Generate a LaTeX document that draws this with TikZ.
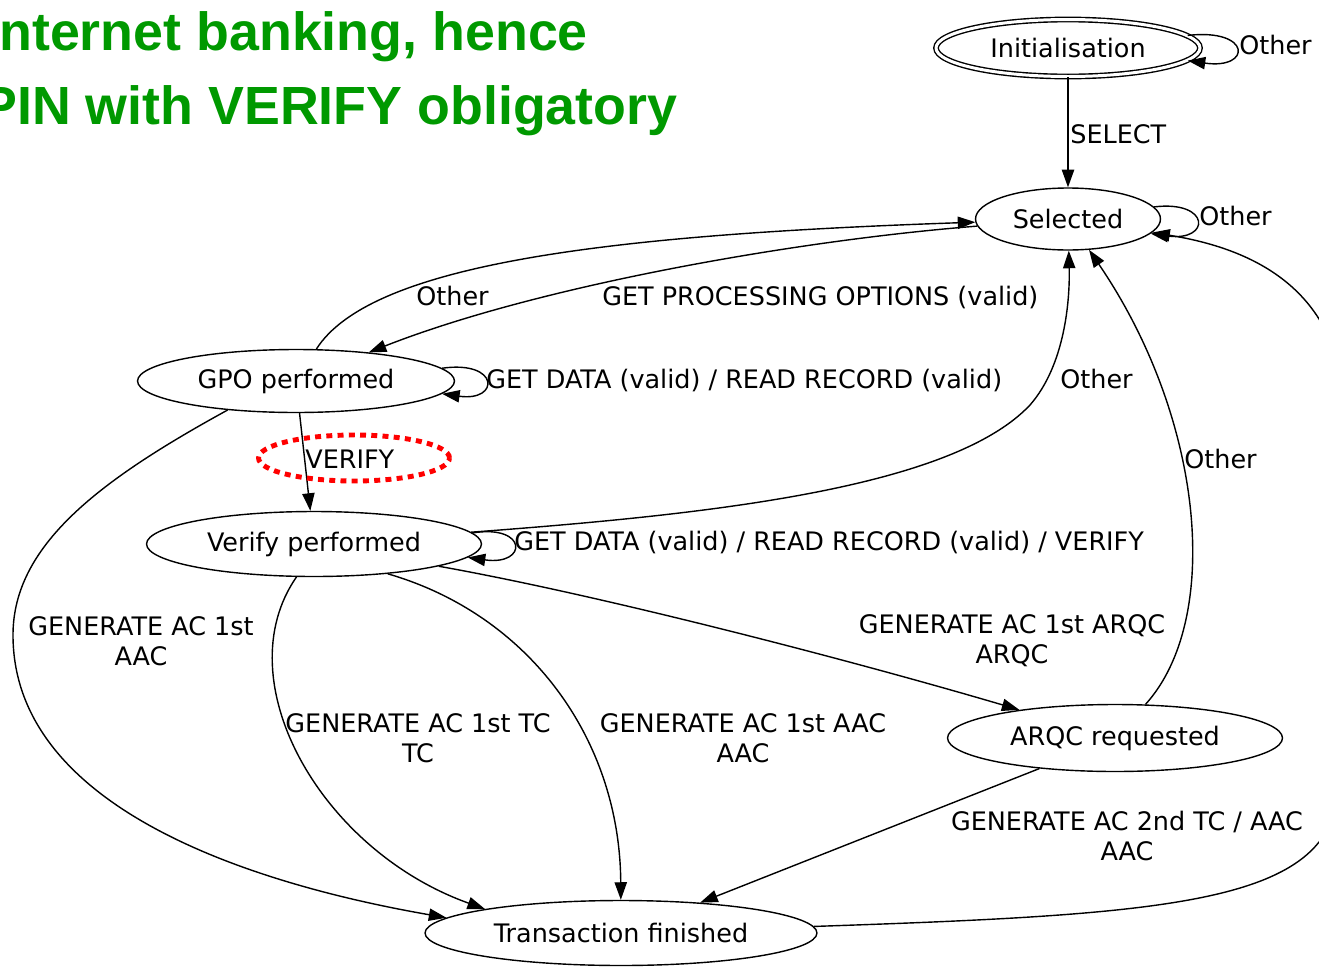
\documentclass[tikz,border=0pt]{standalone}
\usepackage{fontspec}
\setmainfont{DejaVu Sans}
\newfontfamily\titlefont{Liberation Sans}
\usetikzlibrary{shapes.geometric,arrows.meta}
\definecolor{titlegreen}{RGB}{0,153,0}
\begin{document}
\begin{tikzpicture}[x=0.02cm,y=-0.02cm,
  state/.style={draw, ellipse, line width=0.8pt, inner sep=0pt, font=\fontsize{14.5}{17}\selectfont},
  lbl/.style={inner sep=0pt, font=\fontsize{14.5}{17}\selectfont},
  mlbl/.style={lbl, align=center},
  arr/.style={line width=0.8pt, -{Triangle[length=10pt,width=7pt]}},
  ttl/.style={inner sep=0pt, text=titlegreen, font=\titlefont\bfseries\fontsize{30.6}{36}\selectfont},
  hl/.style={ellipse, draw=red, line width=2.8pt, dash pattern=on 3.4pt off 3pt, inner sep=0pt}
]
\useasboundingbox (0,0) rectangle (1319,967);

% title
\node[ttl, anchor=base west] (t1) at (-1,50) {nternet banking, hence};
\node[ttl, anchor=base west] (t2) at (-19,124) {PIN with VERIFY obligatory};

% states
\node[state, double, double distance=1.7pt, minimum width=5.28cm, minimum height=1.14cm] (init) at (1068,48) {Initialisation};
\node[state, minimum width=3.7cm, minimum height=1.24cm] (sel) at (1068,219) {Selected};
\node[state, minimum width=6.34cm, minimum height=1.26cm] (gpo) at (296,381) {GPO performed};
\node[state, minimum width=6.7cm, minimum height=1.3cm] (ver) at (314,544) {Verify performed};
\node[state, minimum width=6.7cm, minimum height=1.34cm] (arqc) at (1115,738) {ARQC requested};
\node[state, minimum width=7.84cm, minimum height=1.3cm] (tf) at (621,933) {Transaction finished};

% edges
\draw[arr] (init) -- (sel);
\draw[arr] (init.6) .. controls (1252,28) and (1252,70) .. (init.-6);
\draw[arr] (sel.8) .. controls (1211,200) and (1211,242) .. (sel.-10);
\draw[arr] (sel) .. controls (800,240) and (540,285) .. (gpo);
\draw[arr] (gpo) .. controls (370,265) and (600,235) .. (sel);
\draw[arr] (gpo.5) .. controls (500,360) and (500,402) .. (gpo.-5);
\draw[arr] (gpo) -- (ver);
\draw[arr] (ver.4) .. controls (528,524) and (528,566) .. (ver.-5);
\draw[arr] (ver) .. controls (700,515) and (950,490) .. (1030,405) .. controls (1065,365) and (1070,300) .. (sel);
\draw[arr] (arqc) .. controls (1222,620) and (1205,420) .. (sel);
\draw[arr] (tf) .. controls (1150,915) and (1310,905) .. (1335,810) .. controls (1360,720) and (1360,420) .. (1330,340) .. controls (1300,270) and (1230,245) .. (sel);
\draw[arr] (ver) .. controls (600,595) and (850,660) .. (arqc);
\draw[arr] (ver.242) .. controls (225,680) and (320,850) .. (tf.170);
\draw[arr] (ver.338) .. controls (530,615) and (620,740) .. (tf);
\draw[arr] (gpo.203) .. controls (100,480) and (13,545) .. (13,635) .. controls (13,800) and (230,880) .. (tf.175);
\draw[arr] (arqc.202) -- (tf.21);

% labels
\node[lbl, anchor=base west] (lselect) at (1070,143) {SELECT};
\node[lbl, anchor=base west] (linit) at (1239,54) {Other};
\node[lbl, anchor=base west] (lsel) at (1199,225) {Other};
\node[lbl, anchor=base west] (lgo) at (416,305) {Other};
\node[lbl, anchor=base west] (lgpo) at (602,305) {GET PROCESSING OPTIONS (valid)};
\node[lbl, anchor=base west] (lgl) at (486,388) {GET DATA (valid) / READ RECORD (valid)};
\node[lbl, anchor=base west] (lvo) at (1060,388) {Other};
\node[lbl, anchor=base west] (lverify) at (305,468) {VERIFY};
\node[lbl, anchor=base west] (lao) at (1184,468) {Other};
\node[lbl, anchor=base west] (lvl) at (514,550) {GET DATA (valid) / READ RECORD (valid) / VERIFY};
\node[mlbl] (lg1) at (141,641) {GENERATE AC 1st\\AAC};
\node[mlbl] (lg2) at (1012,641) {GENERATE AC 1st ARQC\\ARQC};
\node[mlbl] (lg3) at (418,738) {GENERATE AC 1st TC\\TC};
\node[mlbl] (lg4) at (743,738) {GENERATE AC 1st AAC\\AAC};
\node[mlbl] (lg5) at (1127,836) {GENERATE AC 2nd TC / AAC\\AAC};

% highlight
\node[hl, minimum width=3.82cm, minimum height=0.92cm] (hlv) at (354,458) {};
\end{tikzpicture}
\end{document}
